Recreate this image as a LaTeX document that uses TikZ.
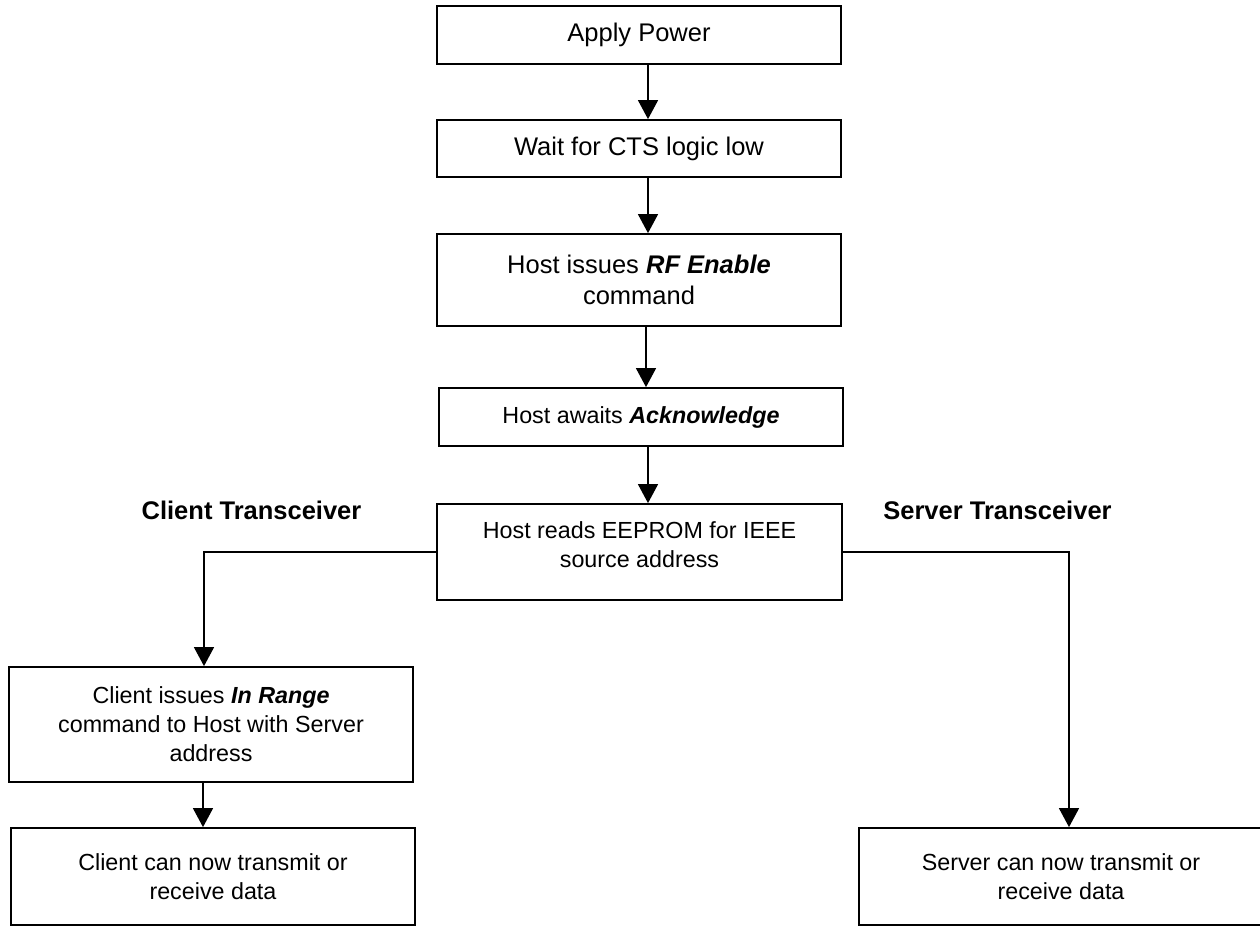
\documentclass[tikz,border=0pt]{standalone}
\usepackage{fontspec}
\setmainfont{Liberation Sans}
\usetikzlibrary{arrows.meta,calc}
\begin{document}
\begin{tikzpicture}[x=1pt,y=-1pt,
  bigtxt/.style={font=\fontsize{25.5}{31}\selectfont},
  smalltxt/.style={font=\fontsize{23.3}{29}\selectfont},
  box/.style={draw=black, line width=1.8pt, rectangle, inner sep=0pt, align=center, minimum width=404pt},
  conn/.style={draw=black, line width=1.5pt, -{Triangle[length=19pt,width=20pt]}},
  lbl/.style={font=\fontsize{25.5}{31}\selectfont\bfseries}
]
\useasboundingbox (0,0) rectangle (1260,926);
\node[box,bigtxt,minimum height=58pt] (b1) at (639,35) {Apply Power};
\node[box,bigtxt,minimum height=57pt] (b2) at (639,148.5) {Wait for CTS logic low};
\node[box,bigtxt,minimum height=92pt] (b3) at (639,280) {Host issues \textbf{\textit{RF Enable}}\\command};
\node[box,smalltxt,minimum height=58pt] (b4) at (641,417) {Host awaits \textbf{\textit{Acknowledge}}};
\node[box,minimum height=96pt,minimum width=405pt] (b5) at (639.5,552) {};
\node[smalltxt,align=center] (b5t) at (639.5,545) {Host reads EEPROM for IEEE\\source address};
\node[box,smalltxt,minimum height=115pt] (b6) at (211,724.5) {Client issues \textbf{\textit{In Range}}\\command to Host with Server\\address};
\node[box,smalltxt,minimum height=97pt] (b7) at (213,876.5) {Client can now transmit or\\receive data};
\node[box,smalltxt,minimum height=97pt] (b8) at (1061,876.5) {Server can now transmit or\\receive data};
\node[lbl] (lc) at (251.5,510) {Client Transceiver};
\node[lbl] (ls) at (997.5,510) {Server Transceiver};
\draw[conn] ([xshift=9pt]b1.south) -- ([xshift=9pt]b2.north);
\draw[conn] ([xshift=9pt]b2.south) -- ([xshift=9pt]b3.north);
\draw[conn] ([xshift=7pt]b3.south) -- ([xshift=5pt]b4.north);
\draw[conn] ([xshift=7pt]b4.south) -- ([xshift=8.5pt]b5.north);
\draw[conn] (b5.west) -| ([xshift=-7pt]b6.north);
\draw[conn] (b5.east) -| ([xshift=8pt]b8.north);
\draw[conn] ([xshift=-8pt]b6.south) -- ([xshift=-10pt]b7.north);
\end{tikzpicture}
\end{document}
